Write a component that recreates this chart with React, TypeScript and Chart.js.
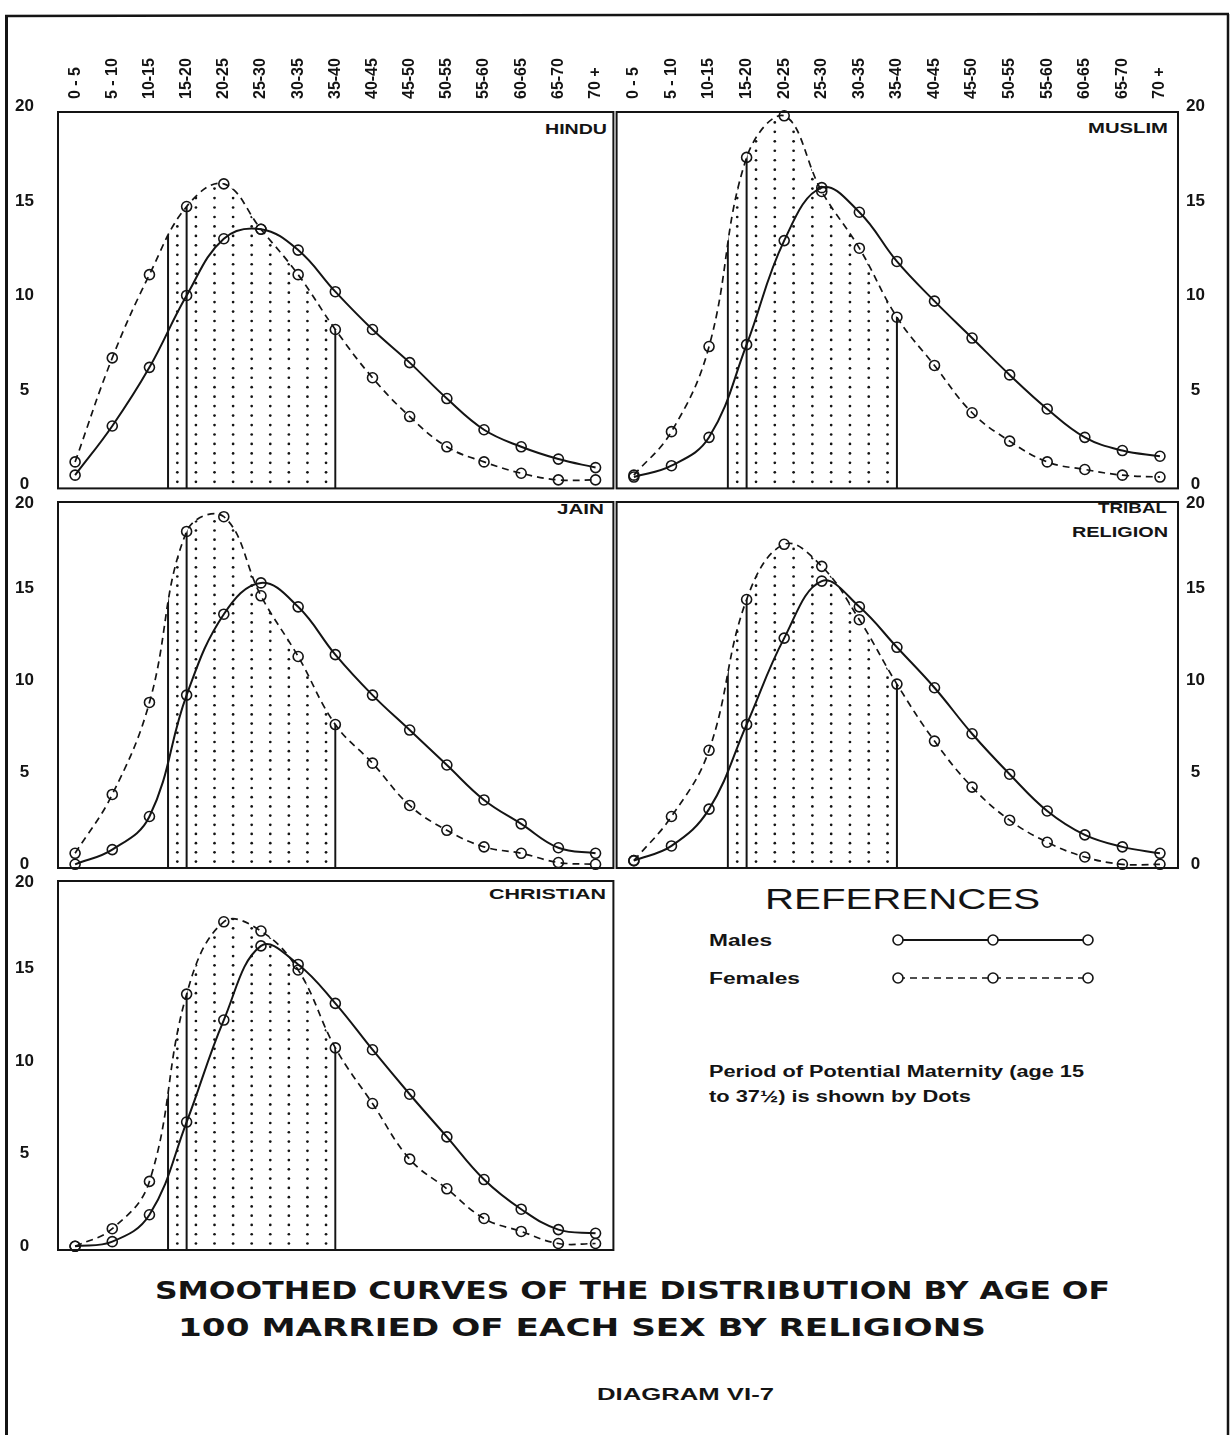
import React, { useEffect, useRef } from 'react';
import { Chart, registerables } from 'chart.js';

Chart.register(...registerables);

// ---------------- data ----------------
const AGE_GROUPS = ['0 - 5', '5 - 10', '10-15', '15-20', '20-25', '25-30', '30-35', '35-40', '40-45', '45-50', '50-55', '55-60', '60-65', '65-70', '70 +'];
const Y_TICKS = [0, 5, 10, 15, 20];

const HINDU_MALES = [0.5, 3.1, 6.2, 10.0, 13.0, 13.5, 12.4, 10.2, 8.2, 6.45, 4.55, 2.9, 2.0, 1.35, 0.9];
const HINDU_FEMALES = [1.2, 6.7, 11.1, 14.7, 15.9, 13.5, 11.1, 8.2, 5.65, 3.6, 2.0, 1.2, 0.6, 0.25, 0.25];

const MUSLIM_MALES = [0.4, 1.0, 2.5, 7.4, 12.9, 15.7, 14.4, 11.8, 9.7, 7.75, 5.8, 4.0, 2.5, 1.8, 1.5];
const MUSLIM_FEMALES = [0.5, 2.8, 7.3, 17.3, 19.5, 15.5, 12.5, 8.85, 6.3, 3.8, 2.3, 1.2, 0.8, 0.5, 0.4];

const JAIN_MALES = [0.0, 0.8, 2.6, 9.2, 13.6, 15.3, 14.0, 11.4, 9.2, 7.3, 5.4, 3.5, 2.2, 0.9, 0.6];
const JAIN_FEMALES = [0.6, 3.8, 8.8, 18.1, 18.9, 14.6, 11.3, 7.6, 5.5, 3.2, 1.85, 0.95, 0.6, 0.1, 0.0];

const TRIBAL_MALES = [0.2, 1.0, 3.0, 7.6, 12.3, 15.4, 14.0, 11.8, 9.6, 7.1, 4.9, 2.9, 1.6, 0.95, 0.6];
const TRIBAL_FEMALES = [0.2, 2.6, 6.2, 14.4, 17.4, 16.2, 13.3, 9.8, 6.7, 4.2, 2.4, 1.2, 0.4, 0.0, 0.0];

const CHRISTIAN_MALES = [0.0, 0.25, 1.7, 6.7, 12.2, 16.2, 15.2, 13.1, 10.6, 8.2, 5.9, 3.6, 2.0, 0.9, 0.7];
const CHRISTIAN_FEMALES = [0.0, 0.95, 3.5, 13.6, 17.5, 17.0, 14.9, 10.7, 7.7, 4.7, 3.1, 1.5, 0.8, 0.15, 0.15];

// period of potential maternity (ages)
const MATERNITY_START_AGE = 15;
const MATERNITY_END_AGE = 37.5;
const MATERNITY_RULE_AGES = [15, 17.5, 37.5];
const DOT_FIRST_AGE = 16.25;
const DOT_STEP_AGE = 2.5;

const ageToIndex = (age: number) => (age - 2.5) / 5;

// ---------------- layout ----------------
type Side = 'left' | 'right';
interface PanelSpec {
  id: string;
  males: number[];
  females: number[];
  side: Side;
  topAxis: boolean;
  lowerRow: boolean;
  canvas: [number, number, number, number]; // left, top, width, height
  area: [number, number, number, number]; // left, top, right, bottom
}

const PANELS: PanelSpec[] = [
  { id: 'hindu', males: HINDU_MALES, females: HINDU_FEMALES, side: 'left', topAxis: true, lowerRow: false, canvas: [0, 0, 620, 495], area: [58, 112, 615, 489] },
  { id: 'muslim', males: MUSLIM_MALES, females: MUSLIM_FEMALES, side: 'right', topAxis: true, lowerRow: false, canvas: [610, 0, 622, 495], area: [615, 112, 1178, 489] },
  { id: 'jain', males: JAIN_MALES, females: JAIN_FEMALES, side: 'left', topAxis: false, lowerRow: true, canvas: [0, 476, 620, 399], area: [58, 489, 615, 868] },
  { id: 'tribal', males: TRIBAL_MALES, females: TRIBAL_FEMALES, side: 'right', topAxis: false, lowerRow: true, canvas: [610, 476, 622, 399], area: [615, 489, 1178, 868] },
  { id: 'christian', males: CHRISTIAN_MALES, females: CHRISTIAN_FEMALES, side: 'left', topAxis: false, lowerRow: true, canvas: [0, 855, 620, 405], area: [58, 868, 615, 1250] },
];

const INK = '#141414';
const TICK_FAMILY = "'Liberation Sans Narrow', 'Liberation Sans', Arial, sans-serif";
const X_TICK_SIZE = 16;
const Y_TICK_SIZE = 17;

const maternityPlugin = {
  id: 'maternity',
  beforeDatasetsDraw(chart: any) {
    const meta = chart.getDatasetMeta(1);
    const line = meta.dataset;
    const pts = meta.data;
    if (!line || !pts || !pts.length) return;
    const { ctx, chartArea } = chart;
    const xs = chart.scales.x;
    const ys = chart.scales.y;
    line.updateControlPoints(chartArea, 'x');
    const xa = xs.getPixelForValue(ageToIndex(MATERNITY_START_AGE));
    const xb = xs.getPixelForValue(ageToIndex(MATERNITY_END_AGE));
    const yBase = chartArea.bottom;
    const top = chartArea.top - 30;
    ctx.save();
    ctx.beginPath();
    ctx.rect(xa - 1.5, top, xb - xa + 3, yBase - top);
    ctx.clip();
    ctx.beginPath();
    line.path(ctx);
    ctx.lineTo(pts[pts.length - 1].x, yBase);
    ctx.lineTo(pts[0].x, yBase);
    ctx.closePath();
    ctx.clip();
    ctx.fillStyle = INK;
    const step = ys.getPixelForValue(0) - ys.getPixelForValue(0.5);
    for (let age = DOT_FIRST_AGE; age < MATERNITY_END_AGE; age += DOT_STEP_AGE) {
      const x = xs.getPixelForValue(ageToIndex(age));
      for (let y = yBase - step * 0.7; y > top; y -= step) {
        ctx.beginPath();
        ctx.arc(x, y, 1.35, 0, Math.PI * 2);
        ctx.fill();
      }
    }
    ctx.strokeStyle = INK;
    ctx.lineWidth = 2;
    for (const age of MATERNITY_RULE_AGES) {
      const x = xs.getPixelForValue(ageToIndex(age));
      ctx.beginPath();
      ctx.moveTo(x, yBase);
      ctx.lineTo(x, top);
      ctx.stroke();
    }
    ctx.restore();
  },
};

const framePlugin = {
  id: 'frame',
  afterDraw(chart: any) {
    const { ctx, chartArea: a } = chart;
    ctx.save();
    ctx.strokeStyle = INK;
    ctx.lineWidth = 2;
    ctx.strokeRect(a.left, a.top, a.right - a.left, a.bottom - a.top);
    ctx.restore();
  },
};

function buildConfig(spec: PanelSpec): any {
  const [cl, ct, cw, ch] = spec.canvas;
  const [al, at, ar, ab] = spec.area;
  const yAxisWidth = spec.side === 'left' ? al - cl : cl + cw - ar;
  const padding = {
    left: spec.side === 'left' ? 0 : al - cl,
    right: spec.side === 'right' ? 0 : cl + cw - ar,
    top: spec.topAxis ? 0 : at - ct,
    bottom: ct + ch - ab,
  };
  const xAxisHeight = at - ct;
  const toPoints = (arr: number[]) => arr.map((v, i) => ({ x: i, y: v }));
  const common = {
    borderColor: INK,
    tension: 0.4,
    pointRadius: 5,
    pointBorderWidth: 1.6,
    pointBorderColor: INK,
    pointBackgroundColor: 'rgba(255,255,255,0)',
    clip: false,
    fill: false,
  };
  return {
    type: 'line',
    data: {
      datasets: [
        { ...common, label: 'Males', data: toPoints(spec.males), borderWidth: 2 },
        { ...common, label: 'Females', data: toPoints(spec.females), borderWidth: 1.7, borderDash: [7, 5] },
      ],
    },
    options: {
      animation: false,
      responsive: false,
      maintainAspectRatio: false,
      devicePixelRatio: 1,
      events: [],
      layout: { padding },
      plugins: { legend: { display: false }, tooltip: { enabled: false }, title: { display: false } },
      scales: {
        x: {
          type: 'linear',
          position: 'top',
          display: spec.topAxis,
          min: -0.46,
          max: 14.48,
          bounds: 'data',
          grid: { display: false, drawTicks: false },
          border: { display: false },
          afterBuildTicks: (s: any) => {
            s.ticks = AGE_GROUPS.map((_, i) => ({ value: i }));
          },
          afterFit: (s: any) => {
            s.height = xAxisHeight;
            s.paddingLeft = 0;
            s.paddingRight = 0;
          },
          ticks: {
            autoSkip: false,
            minRotation: 90,
            maxRotation: 90,
            padding: 13,
            labelOffset: X_TICK_SIZE * 1.2,
            color: INK,
            font: { family: TICK_FAMILY, weight: 'bold', size: X_TICK_SIZE },
            callback: (v: number) => AGE_GROUPS[v],
          },
        },
        y: {
          type: 'linear',
          position: spec.side,
          min: -0.2,
          max: 19.7,
          bounds: 'data',
          grid: { display: false, drawTicks: false },
          border: { display: false },
          afterBuildTicks: (s: any) => {
            s.ticks = Y_TICKS.map((v) => ({ value: v }));
          },
          afterFit: (s: any) => {
            s.width = yAxisWidth;
            s.paddingTop = 0;
            s.paddingBottom = 0;
          },
          ticks: {
            autoSkip: false,
            crossAlign: 'center',
            padding: spec.side === 'left' ? 24 : 8,
            color: INK,
            font: { family: TICK_FAMILY, weight: 'bold', size: Y_TICK_SIZE, lineHeight: 0.8 },
            callback: (v: number) => (spec.lowerRow && v === 20 ? ['', '20'] : String(v)),
          },
        },
      },
    },
    plugins: [maternityPlugin, framePlugin],
  };
}

function Panel({ spec }: { spec: PanelSpec }) {
  const ref = useRef<HTMLCanvasElement>(null);
  useEffect(() => {
    if (!ref.current) return;
    const chart = new Chart(ref.current, buildConfig(spec));
    return () => chart.destroy();
  }, [spec]);
  const [l, t, w, h] = spec.canvas;
  return (
    <canvas
      ref={ref}
      width={w}
      height={h}
      style={{ position: 'absolute', left: l, top: t, width: w, height: h }}
    />
  );
}

const PANEL_TITLES = [
  { text: 'HINDU', x: 607, y: 134, len: 62 },
  { text: 'MUSLIM', x: 1168, y: 133, len: 80 },
  { text: 'JAIN', x: 604, y: 514, len: 47 },
  { text: 'TRIBAL', x: 1167, y: 513, len: 69 },
  { text: 'RELIGION', x: 1168, y: 537, len: 96 },
  { text: 'CHRISTIAN', x: 606, y: 899, len: 117 },
];

const HEAVY = "'DejaVu Sans', 'Liberation Sans', Arial, sans-serif";
const PLAIN = "'Liberation Sans', Arial, sans-serif";

function Overlay() {
  const legendXs = [898, 993, 1088];
  return (
    <svg
      width={1232}
      height={1435}
      style={{ position: 'absolute', left: 0, top: 0 }}
      xmlns="http://www.w3.org/2000/svg"
    >
      {/* outer frame */}
      <line x1={6.5} y1={15} x2={6.5} y2={1435} stroke={INK} strokeWidth={3} />
      <line x1={5} y1={16} x2={1229} y2={14} stroke={INK} strokeWidth={2.5} />
      <line x1={1228} y1={14} x2={1228} y2={1435} stroke={INK} strokeWidth={2.5} />

      {PANEL_TITLES.map((t) => (
        <text
          key={t.text}
          x={t.x}
          y={t.y}
          textAnchor="end"
          fontFamily={PLAIN}
          fontWeight="bold"
          fontSize={15}
          textLength={t.len}
          lengthAdjust="spacingAndGlyphs"
          fill={INK}
        >
          {t.text}
        </text>
      ))}

      {/* references */}
      <text x={765} y={909} fontFamily={PLAIN} fontSize={29} textLength={275} lengthAdjust="spacingAndGlyphs" fill={INK}>
        REFERENCES
      </text>
      <text x={709} y={946} fontFamily={PLAIN} fontWeight="bold" fontSize={16} textLength={63} lengthAdjust="spacingAndGlyphs" fill={INK}>
        Males
      </text>
      <text x={709} y={984} fontFamily={PLAIN} fontWeight="bold" fontSize={16} textLength={91} lengthAdjust="spacingAndGlyphs" fill={INK}>
        Females
      </text>
      <line x1={legendXs[0]} y1={940} x2={legendXs[2]} y2={940} stroke={INK} strokeWidth={2} />
      <line x1={legendXs[0]} y1={978} x2={legendXs[2]} y2={978} stroke={INK} strokeWidth={1.7} strokeDasharray="7 5" />
      {legendXs.map((x) => (
        <g key={x}>
          <circle cx={x} cy={940} r={5} fill="#fff" stroke={INK} strokeWidth={1.6} />
          <circle cx={x} cy={978} r={5} fill="#fff" stroke={INK} strokeWidth={1.6} />
        </g>
      ))}
      <text x={709} y={1077} fontFamily={PLAIN} fontWeight="bold" fontSize={16} textLength={375} lengthAdjust="spacingAndGlyphs" fill={INK}>
        Period of Potential Maternity (age 15
      </text>
      <text x={709} y={1102} fontFamily={PLAIN} fontWeight="bold" fontSize={16} textLength={262} lengthAdjust="spacingAndGlyphs" fill={INK}>
        to 37½) is shown by Dots
      </text>

      {/* title */}
      <text x={155} y={1299} fontFamily={HEAVY} fontWeight="bold" fontSize={24} textLength={955} lengthAdjust="spacingAndGlyphs" fill={INK}>
        SMOOTHED CURVES OF THE DISTRIBUTION BY AGE OF
      </text>
      <text x={178} y={1336} fontFamily={HEAVY} fontWeight="bold" fontSize={24} textLength={808} lengthAdjust="spacingAndGlyphs" fill={INK}>
        100 MARRIED OF EACH SEX BY RELIGIONS
      </text>
      <text x={597} y={1400} fontFamily={PLAIN} fontWeight="bold" fontSize={17} textLength={177} lengthAdjust="spacingAndGlyphs" fill={INK}>
        DIAGRAM VI-7
      </text>
    </svg>
  );
}

export default function App() {
  return (
    <div
      style={{
        position: 'absolute',
        left: 0,
        top: 0,
        width: 1232,
        height: 1435,
        background: '#fff',
        overflow: 'hidden',
      }}
    >
      <Overlay />
      {PANELS.map((p) => (
        <Panel key={p.id} spec={p} />
      ))}
    </div>
  );
}
